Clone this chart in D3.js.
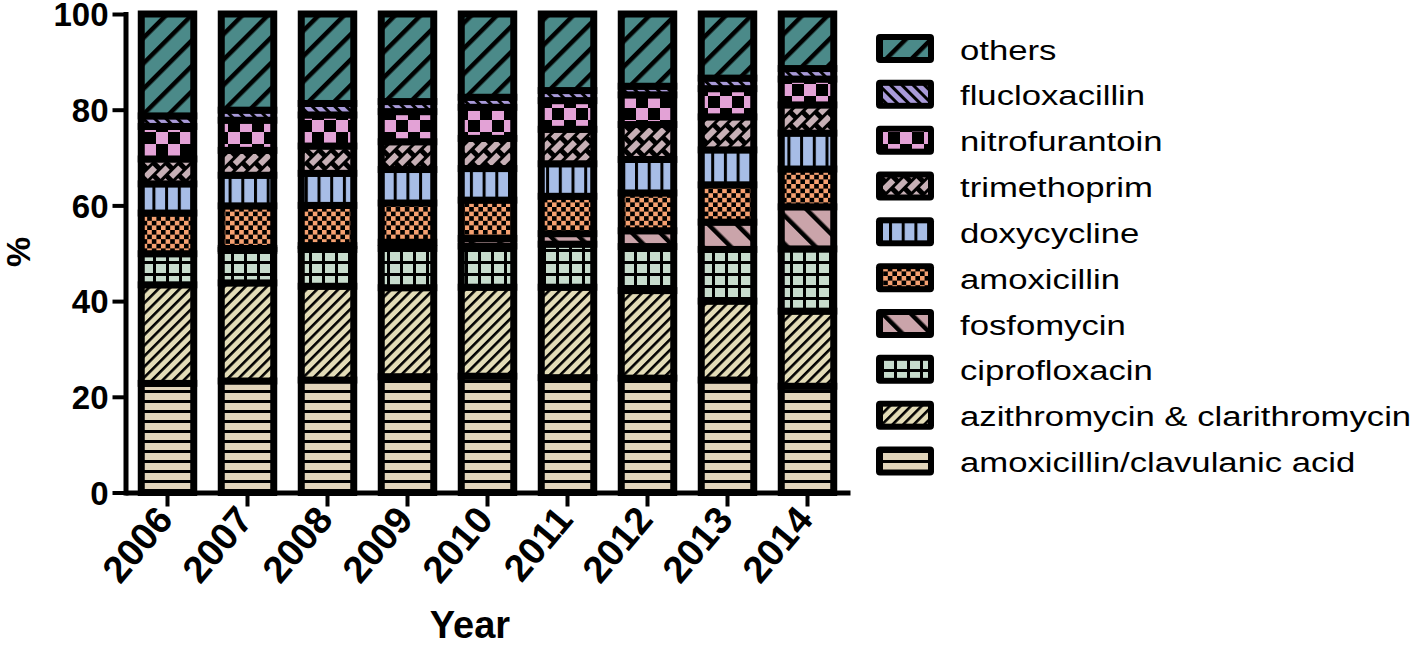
<!DOCTYPE html>
<html><head><meta charset="utf-8">
<script src="https://cdn.jsdelivr.net/npm/d3@7"></script>
<style>body{margin:0;background:#fff;} svg{display:block;}</style>
</head><body>
<svg id="chart" width="1418" height="645"></svg>
<script>
// ---------- data ----------
const years = ["2006","2007","2008","2009","2010","2011","2012","2013","2014"];
const seriesNames = ["amoxicillin/clavulanic acid","azithromycin & clarithromycin","ciprofloxacin","fosfomycin","amoxicillin","doxycycline","trimethoprim","nitrofurantoin","flucloxacillin","others"];
const amoxClav        = [22.8,23.3,23.5,24.2,24.3,24.0,23.9,23.5,22.2];
const azithroClarithro= [20.6,20.5,19.6,18.6,18.6,18.9,18.3,16.5,15.7];
const ciprofloxacin   = [6.5,6.8,7.7,8.2,8.6,9.0,9.2,10.8,13.0];
const fosfomycin      = [0,0.4,0.8,1.3,1.6,2.2,3.3,5.7,8.8];
const amoxicillin     = [8.5,8.9,8.4,8.2,8.0,7.8,7.9,7.8,7.9];
const doxycycline     = [6.1,6.4,6.7,7.0,6.6,6.8,7.0,7.3,7.5];
const trimethoprim    = [5.2,5.2,5.7,5.8,6.3,7.2,7.3,6.9,5.9];
const nitrofurantoin  = [6.8,6.3,6.5,6.3,6.5,6.0,6.2,5.9,5.4];
const flucloxacillin  = [2.2,2.1,2.4,2.1,2.1,2.1,1.8,2.2,2.2];
const others          = [21.3,20.1,18.7,18.3,17.4,16.0,15.1,13.4,11.4];
const yTicks = [0,20,40,60,80,100];
const yLabel = "%";
const xLabel = "Year";

const seriesValues = [amoxClav, azithroClarithro, ciprofloxacin, fosfomycin, amoxicillin,
  doxycycline, trimethoprim, nitrofurantoin, flucloxacillin, others];

// ---------- styles ----------
const fillColors = ["#e2d5bb","#e3dcb7","#c7dccd","#caa4aa","#f5a070","#a7bde6","#c7b0b6","#e3a2d6","#a99ad9","#4b8a89"];
const patternKinds = [
  {type:"stripe", period:10, stripe:3, angle:90},     // amox/clav horizontal
  {type:"stripe", period:7.5, stripe:2.6, angle:45},  // azithro "/"
  {type:"grid", w:13, h:12, line:3},                  // cipro grid
  {type:"stripe", period:20, stripe:4.5, angle:-45},  // fosfo "\"
  {type:"checker", cell:4.6},                         // amoxicillin
  {type:"stripe", period:12.7, stripe:3, angle:0},    // doxy vertical
  {type:"brick", w:9, h:18, bw:6, bh:13, angle:45},   // trimethoprim
  {type:"checker", cell:12},                          // nitrofurantoin
  {type:"stripe", period:8, stripe:3, angle:-45},     // fluclox "\"
  {type:"stripe", period:18, stripe:4.5, angle:45}    // others "/"
];

const svg = d3.select("#chart");
const defs = svg.append("defs");
patternKinds.forEach((k, i) => {
  const id = "pat" + i, c = fillColors[i];
  let p;
  if (k.type === "stripe") {
    p = defs.append("pattern").attr("id", id).attr("patternUnits","userSpaceOnUse")
      .attr("width", k.period).attr("height", k.period)
      .attr("patternTransform", `rotate(${k.angle})`);
    p.append("rect").attr("width", k.period).attr("height", k.period).attr("fill", c);
    p.append("rect").attr("width", k.stripe).attr("height", k.period).attr("fill", "#000");
  } else if (k.type === "checker") {
    const s = k.cell;
    p = defs.append("pattern").attr("id", id).attr("patternUnits","userSpaceOnUse")
      .attr("width", 2*s).attr("height", 2*s);
    p.append("rect").attr("width", 2*s).attr("height", 2*s).attr("fill", "#000");
    p.append("rect").attr("width", s).attr("height", s).attr("fill", c);
    p.append("rect").attr("x", s).attr("y", s).attr("width", s).attr("height", s).attr("fill", c);
  } else if (k.type === "grid") {
    p = defs.append("pattern").attr("id", id).attr("patternUnits","userSpaceOnUse")
      .attr("width", k.w).attr("height", k.h);
    p.append("rect").attr("width", k.w).attr("height", k.h).attr("fill", "#000");
    p.append("rect").attr("width", k.w - k.line).attr("height", k.h - k.line).attr("fill", c);
  } else if (k.type === "brick") {
    // staggered short bars
    const W = 2 * k.w, H = k.h;
    p = defs.append("pattern").attr("id", id).attr("patternUnits","userSpaceOnUse")
      .attr("width", W).attr("height", H)
      .attr("patternTransform", `rotate(${k.angle})`);
    p.append("rect").attr("width", W).attr("height", H).attr("fill", "#000");
    p.append("rect").attr("x", 0).attr("y", 0).attr("width", k.bw).attr("height", k.bh).attr("fill", c);
    const off = H / 2;
    p.append("rect").attr("x", k.w).attr("y", off).attr("width", k.bw).attr("height", Math.min(k.bh, H - off)).attr("fill", c);
    if (k.bh > H - off)
      p.append("rect").attr("x", k.w).attr("y", 0).attr("width", k.bw).attr("height", k.bh - (H - off)).attr("fill", c);
  }
});

// ---------- scales ----------
const x = d3.scaleBand().domain(years).range([127.5, 847.5]).paddingInner(0.344).paddingOuter(0.172);
const y = d3.scaleLinear().domain([0, 100]).range([492.5, 14]);

// ---------- stacked data ----------
const table = years.map((yr, j) => {
  const row = {year: yr};
  seriesNames.forEach((n, i) => row[n] = seriesValues[i][j]);
  return row;
});
const stacked = d3.stack().keys(seriesNames)(table);

const barG = svg.append("g");
stacked.forEach((layer, i) => {
  barG.append("g").selectAll("rect").data(layer).join("rect")
    .attr("x", d => x(d.data.year))
    .attr("width", x.bandwidth())
    .attr("y", d => y(d[1]))
    .attr("height", d => Math.max(0, y(d[0]) - y(d[1])))
    .attr("fill", `url(#pat${i})`)
    .attr("stroke", "#000")
    .attr("stroke-width", 7);
});

// ---------- axes ----------
const fontFam = "'Liberation Sans', Arial, Helvetica, sans-serif";
const yAxis = svg.append("g").attr("transform", "translate(125.5,0)")
  .call(d3.axisLeft(y).tickValues(yTicks).tickFormat(d3.format("d")).tickSize(13).tickSizeOuter(0).tickPadding(4));
yAxis.select(".domain").attr("stroke-width", 5).attr("stroke-linecap", "square");
yAxis.selectAll(".tick line").attr("stroke-width", 4);
yAxis.selectAll(".tick text").attr("font-family", fontFam).attr("font-weight", "bold")
  .attr("font-size", 33).attr("fill", "#000").attr("dy", "0.36em");

const xAxis = svg.append("g").attr("transform", "translate(0,492.5)")
  .call(d3.axisBottom(x).tickSize(14).tickSizeOuter(0));
xAxis.select(".domain").attr("stroke-width", 5).attr("stroke-linecap", "square");
xAxis.selectAll(".tick line").attr("stroke-width", 4);
xAxis.selectAll(".tick text")
  .attr("font-family", fontFam).attr("font-weight", "bold").attr("font-size", 38).attr("fill", "#000")
  .attr("text-anchor", "end").attr("dy", null).attr("y", null)
  .attr("transform", "translate(7,28) rotate(-50)");

svg.append("text").text(yLabel)
  .attr("transform", "translate(30,252) rotate(-90)")
  .attr("text-anchor", "middle").attr("font-family", fontFam).attr("font-weight", "bold").attr("font-size", 34);

svg.append("text").text(xLabel)
  .attr("x", 470).attr("y", 638)
  .attr("text-anchor", "middle").attr("font-family", fontFam).attr("font-weight", "bold").attr("font-size", 38);

// ---------- legend ----------
const legendOrder = d3.range(seriesNames.length).reverse();
const ly = d3.scalePoint().domain(legendOrder).range([48.5, 461]);
const leg = svg.append("g");
legendOrder.forEach(i => {
  const cy = ly(i);
  const g = leg.append("g");
  g.append("rect").attr("x", 876).attr("y", cy - 14.5).attr("width", 58).attr("height", 29)
    .attr("rx", 4).attr("fill", "#000");
  g.append("rect").attr("x", 883).attr("y", cy - 8.5).attr("width", 45).attr("height", 17)
    .attr("fill", `url(#pat${i})`);
  g.append("text").text(seriesNames[i])
    .attr("transform", `translate(960,${cy + 11}) scale(1.24,1)`)
    .attr("font-family", fontFam).attr("font-size", 28).attr("fill", "#000");
});
</script>
</body></html>
